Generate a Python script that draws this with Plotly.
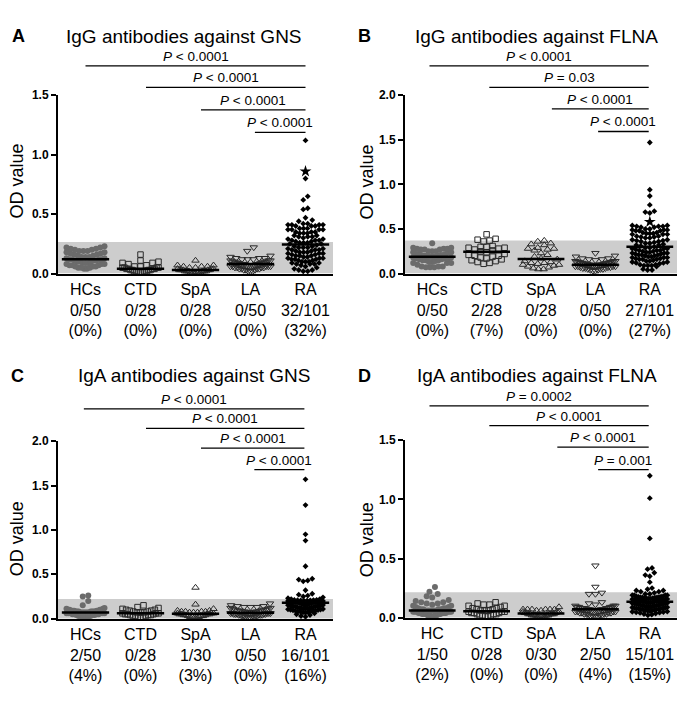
import numpy as np
import plotly.graph_objects as go

W, H = 694, 706
FONT = "Liberation Sans, Arial, Helvetica, sans-serif"

# ------------------------------------------------------------------ data
A_HC = [0.23, 0.22, 0.22, 0.21, 0.21, 0.20, 0.20, 0.19, 0.19, 0.19, 0.18, 0.18, 0.17, 0.17, 0.16, 0.16, 0.15,
        0.15, 0.14, 0.14, 0.14, 0.13, 0.13, 0.12, 0.12, 0.12, 0.12, 0.11, 0.11, 0.11, 0.10, 0.10, 0.10, 0.09,
        0.09, 0.09, 0.08, 0.08, 0.08, 0.07, 0.07, 0.07, 0.06, 0.06, 0.06, 0.05, 0.05, 0.05, 0.04, 0.04]
A_CTD = [0.16, 0.11, 0.10, 0.09, 0.09, 0.08, 0.07, 0.06, 0.06, 0.05, 0.05, 0.05, 0.05, 0.04, 0.04, 0.04, 0.04,
         0.03, 0.03, 0.03, 0.03, 0.02, 0.02, 0.02, 0.02, 0.01, 0.01, 0.01]
A_SPA = [0.11, 0.07, 0.07, 0.06, 0.06, 0.06, 0.05, 0.05, 0.04, 0.04, 0.04, 0.03, 0.03, 0.03, 0.03, 0.03, 0.02,
         0.02, 0.02, 0.02, 0.02, 0.02, 0.01, 0.01, 0.01, 0.01, 0.01, 0.00]
A_LA = [0.22, 0.19, 0.15, 0.14, 0.13, 0.13, 0.13, 0.12, 0.12, 0.12, 0.11, 0.11, 0.11, 0.10, 0.10, 0.10, 0.10,
        0.09, 0.09, 0.09, 0.09, 0.08, 0.08, 0.08, 0.08, 0.08, 0.07, 0.07, 0.07, 0.07, 0.07, 0.06, 0.06, 0.06,
        0.06, 0.06, 0.05, 0.05, 0.05, 0.05, 0.04, 0.04, 0.04, 0.04, 0.03, 0.03, 0.03, 0.02, 0.02, 0.02]
A_RA = [1.12, 0.86, 0.80, 0.65, 0.62, 0.55, 0.54, 0.47, 0.45, 0.44,
        0.42, 0.42, 0.41, 0.41, 0.41, 0.41, 0.40, 0.40, 0.40,
        0.38, 0.38, 0.38, 0.37, 0.37, 0.37, 0.37,
        0.35, 0.35, 0.35, 0.34, 0.34, 0.34,
        0.32, 0.32, 0.31, 0.31, 0.31, 0.30,
        0.29, 0.29, 0.28, 0.28, 0.28,
        0.27, 0.27, 0.26, 0.26, 0.26,
        0.25, 0.25,
        0.24, 0.23, 0.23, 0.22, 0.22, 0.22,
        0.21, 0.21, 0.20, 0.20, 0.20, 0.19, 0.19,
        0.18, 0.18, 0.18, 0.17, 0.17, 0.17, 0.16,
        0.16, 0.15, 0.15, 0.15, 0.14, 0.14,
        0.13, 0.13, 0.13, 0.12, 0.12, 0.12,
        0.11, 0.11, 0.10, 0.10, 0.10,
        0.09, 0.09, 0.08, 0.08, 0.08, 0.07,
        0.06, 0.05, 0.04, 0.03, 0.03, 0.02, 0.02]
A_STAR = 0.86
A_CUTOFF = 0.265

B_HC = [0.34,
        0.29, 0.29, 0.28, 0.28, 0.28, 0.27, 0.27, 0.27,
        0.25, 0.25, 0.25, 0.24, 0.24, 0.24,
        0.22, 0.22, 0.22, 0.21, 0.21, 0.21,
        0.20, 0.20, 0.20, 0.19, 0.19, 0.19,
        0.18, 0.18, 0.17, 0.17, 0.17, 0.16,
        0.16, 0.15, 0.15, 0.15, 0.14,
        0.13, 0.13, 0.12, 0.12, 0.12,
        0.10,
        0.08, 0.08, 0.08, 0.07, 0.07, 0.07]
B_CTD = [0.44, 0.39, 0.38, 0.37, 0.36, 0.31, 0.30, 0.30, 0.29, 0.29, 0.28, 0.27, 0.26, 0.25, 0.24, 0.22, 0.21,
         0.20, 0.20, 0.19, 0.18, 0.17, 0.16, 0.15, 0.14, 0.13, 0.12, 0.11]
B_SPA = [0.37, 0.36, 0.34, 0.33, 0.32, 0.29, 0.28, 0.28, 0.27, 0.26, 0.23, 0.21, 0.19, 0.17, 0.16, 0.14, 0.13,
         0.12, 0.12, 0.11, 0.10, 0.10, 0.09, 0.08, 0.07, 0.06, 0.05, 0.05]
B_LA = [0.23, 0.20, 0.19, 0.17, 0.17, 0.16, 0.16, 0.15, 0.14, 0.14, 0.14, 0.13, 0.13, 0.13, 0.13, 0.12, 0.12,
        0.12, 0.12, 0.11, 0.11, 0.11, 0.11, 0.11, 0.10, 0.10, 0.10, 0.10, 0.10, 0.09, 0.09, 0.09, 0.09, 0.08,
        0.08, 0.08, 0.08, 0.07, 0.07, 0.07, 0.06, 0.06, 0.06, 0.05, 0.05, 0.05, 0.04, 0.04, 0.03, 0.03]
B_RA = [1.47, 0.94, 0.87, 0.77, 0.70, 0.69, 0.68, 0.58,
        0.54, 0.54, 0.53, 0.53, 0.53, 0.52, 0.52,
        0.50, 0.50, 0.49, 0.49, 0.49, 0.48, 0.48, 0.48,
        0.46, 0.46, 0.45, 0.45, 0.45, 0.44, 0.44, 0.44,
        0.42, 0.42, 0.41, 0.41, 0.40, 0.40,
        0.38, 0.38, 0.37, 0.37, 0.36, 0.36,
        0.35, 0.34, 0.34, 0.33,
        0.32, 0.32, 0.31,
        0.30, 0.29, 0.29, 0.28, 0.28, 0.28,
        0.27, 0.26, 0.26, 0.26, 0.25, 0.25,
        0.24, 0.24, 0.23, 0.23, 0.23, 0.22,
        0.22, 0.21, 0.21, 0.21, 0.20, 0.20,
        0.19, 0.19, 0.18, 0.18, 0.18,
        0.17, 0.17, 0.16, 0.16, 0.16,
        0.15, 0.14, 0.14, 0.13,
        0.13, 0.12, 0.12, 0.11,
        0.10, 0.10, 0.09, 0.09, 0.09, 0.08,
        0.05, 0.04, 0.04]
B_STAR = 0.58
B_CUTOFF = 0.37

C_HC = [0.26, 0.25, 0.20, 0.15, 0.12, 0.11, 0.11, 0.10, 0.10, 0.10, 0.10, 0.09, 0.09, 0.09, 0.09, 0.09, 0.08,
        0.08, 0.08, 0.08, 0.08, 0.08, 0.08, 0.07, 0.07, 0.07, 0.07, 0.07, 0.07, 0.07, 0.06, 0.06, 0.06, 0.06,
        0.06, 0.06, 0.05, 0.05, 0.05, 0.05, 0.04, 0.04, 0.04, 0.03, 0.03, 0.03, 0.02, 0.02, 0.01, 0.01]
C_CTD = [0.15, 0.13, 0.12, 0.11, 0.10, 0.10, 0.09, 0.09, 0.08, 0.08, 0.07, 0.07, 0.07, 0.06, 0.06, 0.06, 0.05,
         0.05, 0.05, 0.04, 0.04, 0.04, 0.03, 0.03, 0.03, 0.02, 0.02, 0.01]
C_SPA = [0.35, 0.16, 0.11, 0.09, 0.09, 0.08, 0.08, 0.08, 0.08, 0.07, 0.07, 0.07, 0.06, 0.06, 0.06, 0.05, 0.05,
         0.05, 0.05, 0.04, 0.04, 0.04, 0.03, 0.03, 0.03, 0.02, 0.02, 0.02, 0.01, 0.01]
C_LA = [0.17, 0.15, 0.14, 0.14, 0.13, 0.13, 0.13, 0.12, 0.12, 0.11, 0.11, 0.10, 0.10, 0.10, 0.09, 0.09, 0.09,
        0.08, 0.08, 0.08, 0.08, 0.07, 0.07, 0.07, 0.07, 0.06, 0.06, 0.06, 0.06, 0.06, 0.05, 0.05, 0.05, 0.05,
        0.05, 0.04, 0.04, 0.04, 0.04, 0.04, 0.03, 0.03, 0.03, 0.03, 0.02, 0.02, 0.02, 0.02, 0.01, 0.01]
C_RA = [1.57, 1.28, 0.95, 0.88, 0.59, 0.45, 0.44, 0.43, 0.42, 0.32, 0.28, 0.27, 0.26, 0.25, 0.24, 0.23, 0.22, 0.22,
        0.212, 0.210, 0.209, 0.207, 0.206, 0.205, 0.203, 0.202,
        0.200, 0.199, 0.198, 0.197, 0.196, 0.195, 0.194, 0.193, 0.192, 0.191, 0.190, 0.189,
        0.188, 0.187, 0.186, 0.186, 0.185, 0.185, 0.184, 0.184, 0.183, 0.183, 0.182, 0.182,
        0.180, 0.176, 0.174, 0.172, 0.170, 0.168, 0.166, 0.164,
        0.162, 0.160, 0.158, 0.156, 0.154, 0.152, 0.150, 0.148,
        0.145, 0.142, 0.140, 0.138, 0.135, 0.132, 0.130,
        0.127, 0.125, 0.122, 0.120, 0.118, 0.115,
        0.112, 0.110, 0.108, 0.105, 0.102, 0.100,
        0.097, 0.094, 0.090, 0.088, 0.085,
        0.082, 0.080, 0.078, 0.075,
        0.070, 0.065, 0.060,
        0.050, 0.040,
        0.030, 0.020]
C_CUTOFF = 0.22

D_HC = [0.26, 0.22, 0.20, 0.18, 0.17, 0.15, 0.14, 0.13, 0.13, 0.12, 0.12, 0.11, 0.10, 0.10, 0.09, 0.09, 0.08,
        0.08, 0.08, 0.07, 0.07, 0.07, 0.07, 0.06, 0.06, 0.06, 0.06, 0.06, 0.05, 0.05, 0.05, 0.05, 0.05, 0.05,
        0.04, 0.04, 0.04, 0.04, 0.04, 0.03, 0.03, 0.03, 0.03, 0.03, 0.02, 0.02, 0.02, 0.02, 0.01, 0.01]
D_CTD = [0.13, 0.12, 0.11, 0.11, 0.10, 0.10, 0.09, 0.08, 0.08, 0.07, 0.07, 0.06, 0.06, 0.06, 0.05, 0.05, 0.05,
         0.04, 0.04, 0.04, 0.03, 0.03, 0.03, 0.02, 0.02, 0.02, 0.01, 0.01]
D_SPA = [0.09, 0.07, 0.07, 0.07, 0.07, 0.07, 0.07, 0.06, 0.06, 0.05, 0.05, 0.05, 0.04, 0.04, 0.04, 0.03, 0.03,
         0.03, 0.03, 0.03, 0.02, 0.02, 0.02, 0.02, 0.02, 0.01, 0.01, 0.01, 0.01, 0.01]
D_LA = [0.44, 0.26, 0.21, 0.20, 0.20, 0.13, 0.12, 0.11, 0.10, 0.10, 0.10, 0.09, 0.09, 0.09, 0.09, 0.08, 0.08,
        0.08, 0.08, 0.08, 0.07, 0.07, 0.07, 0.07, 0.07, 0.07, 0.06, 0.06, 0.06, 0.06, 0.06, 0.05, 0.05, 0.05,
        0.05, 0.04, 0.04, 0.04, 0.04, 0.03, 0.03, 0.03, 0.03, 0.02, 0.02, 0.02, 0.01, 0.01, 0.01, 0.01]
D_RA = [1.20, 1.01, 0.67, 0.42, 0.41, 0.38, 0.36, 0.35, 0.30, 0.25, 0.24, 0.23, 0.23, 0.22, 0.22, 0.21,
        0.20, 0.20, 0.19, 0.19, 0.19, 0.19, 0.18, 0.18,
        0.178, 0.176, 0.174, 0.172, 0.170, 0.170, 0.168, 0.166, 0.165,
        0.163, 0.161, 0.160, 0.158, 0.156, 0.155, 0.153, 0.152, 0.150,
        0.148, 0.146, 0.145, 0.143, 0.142, 0.140, 0.138, 0.137,
        0.135, 0.133, 0.130, 0.128, 0.127, 0.125, 0.123, 0.121,
        0.120, 0.118, 0.116, 0.114, 0.112, 0.110, 0.108, 0.106,
        0.104, 0.102, 0.100, 0.098, 0.096, 0.094, 0.092, 0.090,
        0.088, 0.086, 0.084, 0.082, 0.080, 0.078, 0.076,
        0.074, 0.072, 0.070, 0.068, 0.066, 0.064, 0.062,
        0.060, 0.058, 0.055, 0.052, 0.050,
        0.048, 0.045, 0.042, 0.040,
        0.035, 0.030, 0.025, 0.020]
D_CUTOFF = 0.215

A_LABELS = ["HCs<br>0/50<br>(0%)", "CTD<br>0/28<br>(0%)", "SpA<br>0/28<br>(0%)", "LA<br>0/50<br>(0%)", "RA<br>32/101<br>(32%)"]
B_LABELS = ["HCs<br>0/50<br>(0%)", "CTD<br>2/28<br>(7%)", "SpA<br>0/28<br>(0%)", "LA<br>0/50<br>(0%)", "RA<br>27/101<br>(27%)"]
C_LABELS = ["HCs<br>2/50<br>(4%)", "CTD<br>0/28<br>(0%)", "SpA<br>1/30<br>(3%)", "LA<br>0/50<br>(0%)", "RA<br>16/101<br>(16%)"]
D_LABELS = ["HC<br>1/50<br>(2%)", "CTD<br>0/28<br>(0%)", "SpA<br>0/30<br>(0%)", "LA<br>2/50<br>(4%)", "RA<br>15/101<br>(15%)"]

A_PTEXT = ["P < 0.0001", "P < 0.0001", "P < 0.0001", "P < 0.0001"]
B_PTEXT = ["P < 0.0001", "P = 0.03", "P < 0.0001", "P < 0.0001"]
C_PTEXT = ["P < 0.0001", "P < 0.0001", "P < 0.0001", "P < 0.0001"]
D_PTEXT = ["P = 0.0002", "P < 0.0001", "P < 0.0001", "P = 0.001"]

TITLES = ["IgG antibodies against GNS", "IgG antibodies against FLNA",
          "IgA antibodies against GNS", "IgA antibodies against FLNA"]
LETTERS = ["A", "B", "C", "D"]
A_TICKS = [0.0, 0.5, 1.0, 1.5]
B_TICKS = [0.0, 0.5, 1.0, 1.5, 2.0]
C_TICKS = [0.0, 0.5, 1.0, 1.5, 2.0]
D_TICKS = [0.0, 0.5, 1.0, 1.5]

# ------------------------------------------------------------------ layout geometry (pixels)
GEOM = [
    dict(x0=58, x1=333, yb=272, yt=90, title_x=184, title_y=30, letter_x=18, od_x=17, od_y=178,
         sig_y=[60, 82, 105, 128], sig_x0=[0.0, 1.1, 2.1, 3.08], sig_x1=4.0),
    dict(x0=405, x1=677, yb=272, yt=90, title_x=536, title_y=30, letter_x=364, od_x=367, od_y=178,
         sig_y=[60, 82, 104, 127], sig_x0=[-0.05, 1.05, 2.2, 3.05], sig_x1=3.98),
    dict(x0=58, x1=333, yb=624, yt=443, title_x=194, title_y=376, letter_x=17, od_x=17, od_y=543,
         sig_y=[410, 430, 450, 472], sig_x0=[-0.03, 1.1, 2.1, 3.07], sig_x1=3.98),
    dict(x0=405, x1=677, yb=623, yt=442, title_x=537, title_y=376, letter_x=364, od_x=367, od_y=543,
         sig_y=[407, 427, 449, 472], sig_x0=[-0.05, 1.05, 2.3, 3.05], sig_x1=3.98),
]

STYLES = [
    dict(symbol="circle", size=6, color="#6b6b6b", line=dict(width=0)),
    dict(symbol="square-open", size=5.5, color="#2a2a2a", line=dict(width=1)),
    dict(symbol="triangle-up-open", size=6.5, color="#2a2a2a", line=dict(width=1)),
    dict(symbol="triangle-down-open", size=6.5, color="#2a2a2a", line=dict(width=1)),
    dict(symbol="diamond", size=4.5, color="black", line=dict(width=0)),
]
# row height px, step px, half width px
SWARM = [(5.0, 5.5, 19.0), (5.0, 6.0, 18.0), (5.0, 6.5, 18.0), (5.0, 6.5, 20.0), (4.0, 4.5, 17.5)]


def swarm(vals, ppu_y, ppu_x, row_px, step_px, half_px):
    v = np.sort(np.asarray(vals, float))
    rows, cur = [], [v[0]]
    for val in v[1:]:
        if (val - cur[0]) * ppu_y > row_px:
            rows.append(cur)
            cur = [val]
        else:
            cur.append(val)
    rows.append(cur)
    xs, ys = [], []
    for r in rows:
        n = len(r)
        step = step_px if n == 1 else min(step_px, 2 * half_px / (n - 1))
        slots = sorted([k - (n - 1) / 2 for k in range(n)], key=lambda s: (abs(s), s))
        for val, s in zip(r, slots):
            xs.append(s * step / ppu_x)
            ys.append(val)
    return np.array(xs), np.array(ys)


panels = [
    ([A_HC, A_CTD, A_SPA, A_LA, A_RA], A_LABELS, A_PTEXT, A_CUTOFF, A_STAR, A_TICKS),
    ([B_HC, B_CTD, B_SPA, B_LA, B_RA], B_LABELS, B_PTEXT, B_CUTOFF, B_STAR, B_TICKS),
    ([C_HC, C_CTD, C_SPA, C_LA, C_RA], C_LABELS, C_PTEXT, C_CUTOFF, None, C_TICKS),
    ([D_HC, D_CTD, D_SPA, D_LA, D_RA], D_LABELS, D_PTEXT, D_CUTOFF, None, D_TICKS),
]

fig = go.Figure()
shapes, annotations = [], []
layout = {}


def px_to_py(py):
    return 1 - py / H


for k, (groups, labels, ptext, cutoff, star, ticks) in enumerate(panels):
    g = GEOM[k]
    sfx = "" if k == 0 else str(k + 1)
    xa, ya = "x" + sfx, "y" + sfx
    ymax = ticks[-1]
    ppu_y = (g["yb"] - g["yt"]) / ymax
    ppu_x = (g["x1"] - g["x0"]) / 5.0

    for i, vals in enumerate(groups):
        rh, st, hw = SWARM[i]
        dx, yy = swarm(vals, ppu_y, ppu_x, rh, st, hw)
        xx = i + dx
        mask = np.ones(len(yy), bool)
        if i == 4 and star is not None:
            j = int(np.argmin(np.abs(yy - star)))
            mask[j] = False
            fig.add_trace(go.Scatter(x=[xx[j]], y=[yy[j]], mode="markers", xaxis=xa, yaxis=ya,
                                     marker=dict(symbol="star", size=9, color="black", line=dict(width=0)),
                                     cliponaxis=False, showlegend=False, hoverinfo="skip"))
        fig.add_trace(go.Scatter(x=xx[mask], y=yy[mask], mode="markers", xaxis=xa, yaxis=ya,
                                 marker=STYLES[i], cliponaxis=False, showlegend=False))
        med = float(np.median(vals))
        fig.add_trace(go.Scatter(x=[i - 0.43, i + 0.43], y=[med, med], mode="lines", xaxis=xa, yaxis=ya,
                                 line=dict(color="black", width=2.5), cliponaxis=False,
                                 showlegend=False, hoverinfo="skip"))

    layout["xaxis" + sfx] = dict(
        domain=[g["x0"] / W, g["x1"] / W], range=[-0.5, 4.5], anchor=ya,
        tickmode="array", tickvals=list(range(5)), ticktext=labels, ticks="",
        showline=True, linecolor="black", linewidth=2, showgrid=False, zeroline=False,
        tickfont=dict(family=FONT, size=16, color="black"), fixedrange=True,
    )
    layout["yaxis" + sfx] = dict(
        domain=[px_to_py(g["yb"]), px_to_py(g["yt"])], range=[0, ymax], anchor=xa,
        tickmode="array", tickvals=ticks, tickformat=".1f", ticks="outside", ticklen=5, tickwidth=1.5,
        tickcolor="black", showline=True, linecolor="black", linewidth=2, showgrid=False, zeroline=False,
        tickfont=dict(family=FONT, size=12, color="black", weight="bold"), fixedrange=True,
    )

    shapes.append(dict(type="rect", xref=xa, yref=ya, x0=-0.5, x1=4.5, y0=0, y1=cutoff,
                       fillcolor="rgb(205,205,205)", line=dict(width=0), layer="below"))

    for s in range(4):
        yl = px_to_py(g["sig_y"][s])
        shapes.append(dict(type="line", xref=xa, yref="paper", x0=g["sig_x0"][s], x1=g["sig_x1"],
                           y0=yl, y1=yl, line=dict(color="black", width=1.3)))
        txt = "<i>P</i>" + ptext[s][1:].replace("<", "&lt;")
        annotations.append(dict(x=(g["sig_x0"][s] + g["sig_x1"]) / 2, y=yl, xref=xa, yref="paper",
                                text=txt, showarrow=False, xanchor="center", yanchor="bottom",
                                font=dict(family=FONT, size=13.5, color="black")))

    annotations.append(dict(x=g["title_x"] / W, y=px_to_py(g["title_y"]), xref="paper", yref="paper",
                            text=TITLES[k], showarrow=False, xanchor="center", yanchor="middle",
                            font=dict(family=FONT, size=19, color="black")))
    annotations.append(dict(x=g["letter_x"] / W, y=px_to_py(g["title_y"]), xref="paper", yref="paper",
                            text="<b>" + LETTERS[k] + "</b>", showarrow=False, xanchor="center",
                            yanchor="middle", font=dict(family=FONT, size=18, color="black")))
    annotations.append(dict(x=g["od_x"] / W, y=px_to_py(g["od_y"]), xref="paper", yref="paper",
                            text="OD value", textangle=-90, showarrow=False, xanchor="center",
                            yanchor="middle", font=dict(family=FONT, size=18, color="black")))

fig.update_layout(
    width=W, height=H, margin=dict(l=0, r=0, t=0, b=0),
    paper_bgcolor="white", plot_bgcolor="rgba(0,0,0,0)",
    shapes=shapes, annotations=annotations, showlegend=False,
    font=dict(family=FONT, color="black"), **layout,
)

fig.write_html("out.html", config={"displayModeBar": False},
               post_script="document.body.style.margin='0';document.body.style.overflow='hidden';")
